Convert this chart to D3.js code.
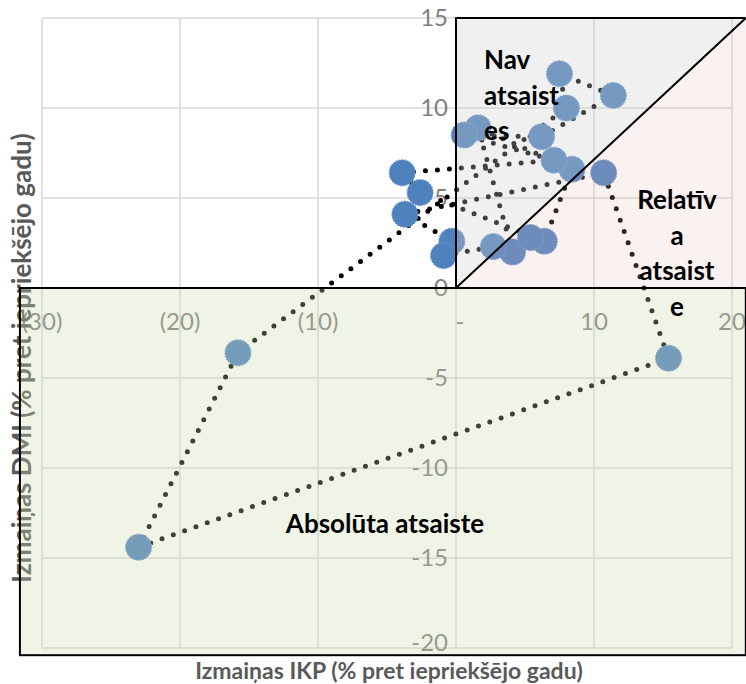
<!DOCTYPE html>
<html>
<head>
<meta charset="utf-8">
<script src="https://cdn.jsdelivr.net/npm/d3@7"></script>
<style>
  body { margin: 0; background: #fff; }
  svg { display: block; font-family: Lato, "Open Sans", sans-serif; }
  .tick-label { fill: #7f7f7f; font-size: 24px; }
  .axis-title { fill: #595959; font-size: 23px; font-weight: bold; }
  .zone-label { fill: #000; font-size: 26px; font-weight: bold; }
</style>
</head>
<body>
<div id="chart"></div>
<script>
// years in the order they are joined by the dotted line
const years = [1996, 1997, 1998, 1999, 2000, 2001, 2002, 2003, 2004, 2005, 2006,
               2007, 2008, 2009, 2010, 2011, 2012, 2013, 2014, 2015, 2016]
// horizontal values (Izmaiņas IKP)
const ikpChange = [4.1, 1.6, 8.4, 6.4, -2.6, -3.9, 7.1, 0.6, 6.2, 11.4, 7.5,
                   8.0, -15.8, -23.0, 15.4, 10.7, -3.7, -0.3, -0.9, 2.7, 5.4]
// vertical values (Izmaiņas DMI)
const dmiChange = [2.0, 8.9, 6.6, 2.6, 5.3, 6.4, 7.1, 8.5, 8.4, 10.7, 11.9,
                   10.0, -3.6, -14.4, -3.9, 6.4, 4.1, 2.6, 1.8, 2.3, 2.8]

const xTicks = [-30, -20, -10, 0, 10, 20]
const yTicks = [-20, -15, -10, -5, 0, 5, 10, 15]

const xFormat = v => v < 0 ? `(${-v})` : (v === 0 ? "-" : `${v}`)

const width = 746, height = 684

const x = d3.scaleLinear().domain([-30, 20]).range([42, 732])
const y = d3.scaleLinear().domain([-20, 15]).range([648, 18])

const data = years.map((yr, i) => ({year: yr, x: ikpChange[i], y: dmiChange[i]}))

const svg = d3.select("#chart").append("svg")
    .attr("width", width)
    .attr("height", height)

// gridlines
const grid = svg.append("g")
grid.selectAll(".gx").data(xTicks).enter().append("line")
    .attr("x1", d => x(d)).attr("x2", d => x(d))
    .attr("y1", y(15)).attr("y2", y(-20))
    .attr("stroke", "#d9d9d9").attr("stroke-width", 1.5)
grid.selectAll(".gy").data(yTicks).enter().append("line")
    .attr("x1", x(-30)).attr("x2", x(20))
    .attr("y1", d => y(d)).attr("y2", d => y(d))
    .attr("stroke", "#d9d9d9").attr("stroke-width", 1.5)

// tick labels (axes cross at 0)
svg.append("g").selectAll("text").data(xTicks).enter().append("text")
    .attr("class", "tick-label")
    .attr("x", d => x(d) + (d === 0 ? 4 : 0))
    .attr("y", y(0) + 42)
    .attr("text-anchor", "middle")
    .text(xFormat)
svg.append("g").selectAll("text").data(yTicks).enter().append("text")
    .attr("class", "tick-label")
    .attr("x", x(0) - 8)
    .attr("y", d => y(d) + (d === -20 ? 3 : 8))
    .attr("text-anchor", "end")
    .text(d => d)

// axis titles
svg.append("text")
    .attr("class", "axis-title")
    .attr("x", 389).attr("y", 679)
    .attr("text-anchor", "middle")
    .text("Izmaiņas IKP (% pret iepriekšējo gadu)")
svg.append("text")
    .attr("class", "axis-title")
    .attr("transform", "translate(31,358) rotate(-90)")
    .attr("text-anchor", "middle")
    .style("font-size", "26px")
    .text("Izmaiņas DMI (% pret iepriekšējo gadu)")

// connecting dotted line
const line = d3.line().x(d => x(d.x)).y(d => y(d.y))
svg.append("path")
    .datum(data)
    .attr("d", line)
    .attr("fill", "none")
    .attr("stroke", "#000")
    .attr("stroke-width", 5)
    .attr("stroke-linecap", "round")
    .attr("stroke-dasharray", "0 12")

// markers
svg.append("g").selectAll("circle").data(data).enter().append("circle")
    .attr("cx", d => x(d.x))
    .attr("cy", d => y(d.y))
    .attr("r", 13)
    .attr("fill", "#4f81bd")
    .attr("stroke", "#6f97c9")
    .attr("stroke-width", 1.2)
    .attr("stroke-dasharray", "1.5 1.5")

// translucent zones drawn over the chart
const xr = 21.0, xl = -31.6, yb = -20.4
const zones = svg.append("g")
zones.append("rect")
    .attr("x", x(xl)).attr("y", y(0))
    .attr("width", x(xr) - x(xl)).attr("height", y(yb) - y(0))
    .attr("fill", "rgb(205,218,172)").attr("fill-opacity", 0.3)
zones.append("path")
    .attr("d", `M${x(0)},${y(0)}L${x(0)},${y(15)}L${x(xr)},${y(15)}Z`)
    .attr("fill", "rgb(206,206,206)").attr("fill-opacity", 0.31)
zones.append("path")
    .attr("d", `M${x(0)},${y(0)}L${x(xr)},${y(15)}L${x(xr)},${y(0)}Z`)
    .attr("fill", "rgb(232,185,185)").attr("fill-opacity", 0.2)

// zone outlines
const outline = zones.append("g").attr("fill", "none").attr("stroke", "#000").attr("stroke-width", 2)
outline.append("rect")
    .attr("x", x(xl)).attr("y", y(0))
    .attr("width", x(xr) - x(xl)).attr("height", y(yb) - y(0))
outline.append("path")
    .attr("d", `M${x(0)},${y(0)}L${x(0)},${y(15)}L${x(xr)},${y(15)}M${x(0)},${y(0)}L${x(xr)},${y(15)}`)

// zone labels
function label(lines, px, py, anchor) {
    const t = svg.append("text").attr("class", "zone-label").attr("text-anchor", anchor)
    lines.forEach((s, i) => {
        t.append("tspan").attr("x", px).attr("y", py + i * 35.5).text(s)
    })
}
label(["Nav", "atsaist", "es"], 484, 69, "start")
label(["Relatīv", "a", "atsaist", "e"], 677, 209, "middle")
label(["Absolūta atsaiste"], 385, 533, "middle")
</script>
</body>
</html>
